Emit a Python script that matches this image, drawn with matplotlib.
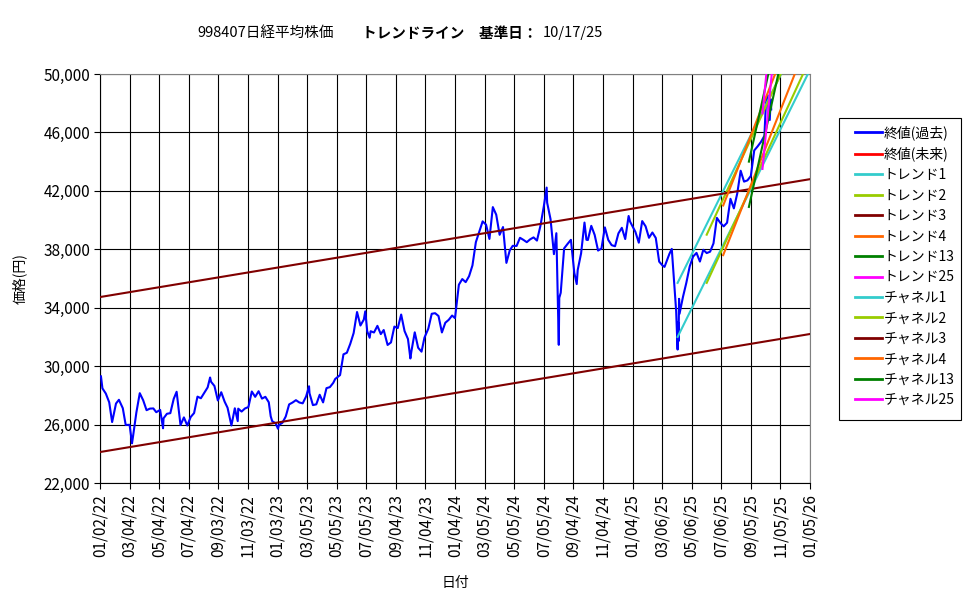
import pandas as pd
import matplotlib
matplotlib.use("Agg")
import matplotlib.pyplot as plt
import matplotlib.dates as mdates
import matplotlib.ticker as mticker
from matplotlib.lines import Line2D
from matplotlib.patches import Rectangle

plt.rcParams['font.family'] = ['Noto Sans CJK JP', 'DejaVu Sans']

# --- dane: 終値 (tygodniowo) ---
close_dates = [
    "2022-01-04", "2022-01-07", "2022-01-14", "2022-01-21", "2022-01-27", "2022-02-04", "2022-02-10",
    "2022-02-18", "2022-02-24", "2022-03-04", "2022-03-09", "2022-03-11", "2022-03-18", "2022-03-25",
    "2022-04-01", "2022-04-08", "2022-04-15", "2022-04-22", "2022-04-28", "2022-05-06", "2022-05-12",
    "2022-05-13", "2022-05-20", "2022-05-27", "2022-06-03", "2022-06-09", "2022-06-17", "2022-06-24",
    "2022-07-01", "2022-07-08", "2022-07-15", "2022-07-22", "2022-07-29", "2022-08-05", "2022-08-12",
    "2022-08-17", "2022-08-19", "2022-08-26", "2022-09-02", "2022-09-09", "2022-09-16", "2022-09-22",
    "2022-09-30", "2022-10-07", "2022-10-13", "2022-10-14", "2022-10-21", "2022-10-28", "2022-11-04",
    "2022-11-11", "2022-11-18", "2022-11-25", "2022-12-02", "2022-12-09", "2022-12-16", "2022-12-20",
    "2022-12-23", "2022-12-30",
    "2023-01-04", "2023-01-06", "2023-01-13", "2023-01-20", "2023-01-27", "2023-02-03", "2023-02-10",
    "2023-02-17", "2023-02-24", "2023-03-03", "2023-03-09", "2023-03-10", "2023-03-17", "2023-03-24",
    "2023-03-31", "2023-04-07", "2023-04-14", "2023-04-21", "2023-04-28", "2023-05-02", "2023-05-12",
    "2023-05-19", "2023-05-26", "2023-06-02", "2023-06-09", "2023-06-16", "2023-06-23", "2023-06-30",
    "2023-07-03", "2023-07-07", "2023-07-12", "2023-07-14", "2023-07-21", "2023-07-28", "2023-08-04",
    "2023-08-10", "2023-08-18", "2023-08-25", "2023-09-01", "2023-09-08", "2023-09-15", "2023-09-22",
    "2023-09-29", "2023-10-04", "2023-10-06", "2023-10-13", "2023-10-20", "2023-10-27", "2023-11-02",
    "2023-11-10", "2023-11-17", "2023-11-24", "2023-12-01", "2023-12-08", "2023-12-15", "2023-12-22",
    "2023-12-29",
    "2024-01-04", "2024-01-12", "2024-01-19", "2024-01-26", "2024-02-02", "2024-02-09", "2024-02-16",
    "2024-02-22", "2024-03-01", "2024-03-08", "2024-03-15", "2024-03-22", "2024-03-29", "2024-04-05",
    "2024-04-12", "2024-04-19", "2024-04-26", "2024-05-02", "2024-05-10", "2024-05-17", "2024-05-24",
    "2024-05-31", "2024-06-07", "2024-06-14", "2024-06-21", "2024-06-28", "2024-07-05", "2024-07-11",
    "2024-07-12", "2024-07-19", "2024-07-26", "2024-07-31", "2024-08-02", "2024-08-05", "2024-08-06",
    "2024-08-09", "2024-08-16", "2024-08-23", "2024-08-30", "2024-09-06", "2024-09-11", "2024-09-13",
    "2024-09-20", "2024-09-27", "2024-10-01", "2024-10-04", "2024-10-11", "2024-10-18", "2024-10-25",
    "2024-11-01", "2024-11-08", "2024-11-15", "2024-11-22", "2024-11-29", "2024-12-06", "2024-12-13",
    "2024-12-20", "2024-12-27", "2024-12-30",
    "2025-01-10", "2025-01-17", "2025-01-24", "2025-01-31", "2025-02-07", "2025-02-14", "2025-02-21",
    "2025-02-28", "2025-03-07", "2025-03-11", "2025-03-14", "2025-03-21", "2025-03-26", "2025-03-31",
    "2025-04-04", "2025-04-07", "2025-04-08", "2025-04-09", "2025-04-10", "2025-04-11", "2025-04-18",
    "2025-04-25", "2025-05-02", "2025-05-09", "2025-05-16", "2025-05-23", "2025-05-30", "2025-06-06",
    "2025-06-13", "2025-06-20", "2025-06-27", "2025-07-04", "2025-07-11", "2025-07-18", "2025-07-25",
    "2025-08-01", "2025-08-08", "2025-08-15", "2025-08-22", "2025-08-29", "2025-09-05", "2025-09-12",
    "2025-09-19", "2025-09-26", "2025-10-03", "2025-10-06", "2025-10-09", "2025-10-10", "2025-10-14",
    "2025-10-16", "2025-10-17",
]
close_values = [
    29301, 28479, 28124, 27522, 26170, 27440, 27696,
    27122, 25971, 25985, 24717, 25163, 26827, 28149,
    27666, 26985, 27093, 27105, 26847, 27003, 25748,
    26428, 26739, 26781, 27761, 28246, 25963, 26491,
    25935, 26517, 26788, 27914, 27801, 28176, 28546,
    29222, 28930, 28641, 27650, 28214, 27567, 27153,
    25937, 27116, 26237, 27090, 26891, 27105, 27199,
    28263, 27899, 28283, 27777, 27901, 27527, 26568,
    26235, 26094,
    25716, 25973, 26119, 26553, 27382, 27509, 27670,
    27513, 27453, 27927, 28623, 28143, 27333, 27385,
    28041, 27518, 28493, 28564, 28856, 29123, 29388,
    30808, 30916, 31524, 32265, 33706, 32781, 33189,
    33753, 32388, 31943, 32391, 32304, 32759, 32193,
    32473, 31450, 31624, 32710, 32606, 33533, 32402,
    31858, 30526, 30995, 32316, 31259, 30991, 31950,
    32568, 33585, 33625, 33432, 32307, 32970, 33169,
    33464,
    33288, 35577, 35963, 35751, 36158, 36897, 38487,
    39098, 39910, 39688, 38707, 40888, 40369, 38992,
    39523, 37068, 37934, 38236, 38229, 38787, 38646,
    38487, 38683, 38814, 38596, 39583, 40912, 42224,
    41190, 40063, 37667, 39101, 35909, 31458, 34675,
    35025, 38062, 38364, 38647, 36391, 35619, 36581,
    37723, 39829, 38651, 38635, 39605, 38981, 37913,
    38053, 39500, 38642, 38283, 38208, 39091, 39470,
    38701, 40281, 39894,
    39190, 38451, 39931, 39572, 38787, 39149, 38776,
    37155, 36887, 36793, 37053, 37677, 38027, 35617,
    33780, 31136, 33012, 31714, 34609, 33585, 34730,
    35705, 36831, 37503, 37753, 37160, 37965, 37741,
    37834, 38403, 40150, 39810, 39570, 39819, 41456,
    40800, 41820, 43378, 42633, 42718, 43018, 44768,
    45045, 45355, 45769, 47944, 48580, 48088, 46847,
    48277, 47582,
]

# --- linie trendu / kanały ---
trend_names = ['1', '2', '3', '4', '13', '25']
trend_colors = ['#33CCCC', '#99CC00', '#800000', '#FF6600', '#008000', '#FF00FF']
trend_start = ['2025-04-07', '2025-06-06', '2022-01-02', '2025-07-10', '2025-09-01', '2025-09-29']
trend_end = '2026-01-05'
trend_upper_start = [35700, 39000, 34730, 41000, 44000, 47300]
trend_upper_end = [53991, 54336, 42800, 56036, 62900, 80620]
channel_lower_start = [32000, 35700, 24120, 37600, 40900, 43500]
channel_lower_end = [50291, 51036, 32200, 52636, 59800, 76820]

title_main = '998407日経平均株価'
title_bold = 'トレンドライン　基準日：'
title_date = '10/17/25'

dates = pd.to_datetime(close_dates)
end_dt = pd.Timestamp(trend_end)

fig = plt.figure(figsize=(9.75, 5.99), dpi=100)
ax = fig.add_axes([100 / 975, 1 - 483 / 599, 710 / 975, 409 / 599])

ax.plot(dates, close_values, color='#0000FF', lw=1.5, zorder=3)

for i, name in enumerate(trend_names):
    ax.plot([pd.Timestamp(trend_start[i]), end_dt], [trend_upper_start[i], trend_upper_end[i]],
            color=trend_colors[i], lw=1.5, zorder=4)
for i, name in enumerate(trend_names):
    ax.plot([pd.Timestamp(trend_start[i]), end_dt], [channel_lower_start[i], channel_lower_end[i]],
            color=trend_colors[i], lw=1.5, zorder=4)

# osie
x0 = pd.Timestamp('2022-01-02')
ticks = [x0 + pd.Timedelta(days=61 * k) for k in range(25)]
ax.set_xlim(x0, end_dt)
ax.set_xticks(ticks)
ax.xaxis.set_major_formatter(mdates.DateFormatter('%m/%d/%y'))
ax.set_ylim(22000, 50000)
ax.set_yticks(range(22000, 50001, 4000))
ax.yaxis.set_major_formatter(mticker.FuncFormatter(lambda v, p: f'{int(v):,}'))
ax.tick_params(axis='x', rotation=90, labelsize=11, length=4, width=0.8, pad=4)
ax.tick_params(axis='y', labelsize=11, length=4, width=0.8, pad=3)
ax.grid(True, color='black', lw=0.8, zorder=1)
ax.set_axisbelow(True)
for s in ['top', 'right']:
    ax.spines[s].set_color('#808080')
for s in ['left', 'bottom']:
    ax.spines[s].set_color('black')
ax.set_xlabel('日付', fontsize=10, labelpad=14)
ax.set_ylabel('価格(円)', fontsize=10, labelpad=12)

# tytuł
fig.text(197 / 975, 1 - 33 / 599, title_main, fontsize=10.5, va='center', ha='left')
fig.text(362 / 975, 1 - 33 / 599, title_bold, fontsize=10.5, va='center', ha='left', fontweight='bold')
fig.text(543 / 975, 1 - 33 / 599, title_date, fontsize=10.5, va='center', ha='left')

# legenda (ramka rysowana osobno)
handles = [Line2D([], [], color='#0000FF', lw=2), Line2D([], [], color='#FF0000', lw=2)]
labels = ['終値(過去)', '終値(未来)']
for i, name in enumerate(trend_names):
    handles.append(Line2D([], [], color=trend_colors[i], lw=2))
    labels.append('トレンド' + name)
for i, name in enumerate(trend_names):
    handles.append(Line2D([], [], color=trend_colors[i], lw=2))
    labels.append('チャネル' + name)
fig.legend(handles, labels, loc='upper left', bbox_to_anchor=(855 / 975, 1 - 125.5 / 599),
           fontsize=10, frameon=False, handlelength=1.94, handletextpad=0.12,
           labelspacing=0.465, borderpad=0, borderaxespad=0)
fig.patches.append(Rectangle((839 / 975, 1 - 420 / 599), 122 / 975, 302 / 599,
                             transform=fig.transFigure, fill=False, edgecolor='black', lw=0.8))

plt.savefig('out.png', dpi=100)
